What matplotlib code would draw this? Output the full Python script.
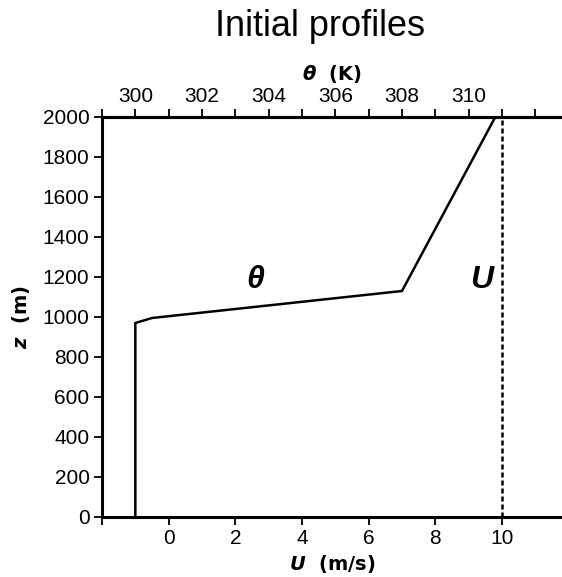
import numpy as np
import matplotlib
matplotlib.use("Agg")
import matplotlib.pyplot as plt

# initial potential temperature profile (K) vs height (m)
theta = [300.0, 300.0, 300.5, 308.0, 310.8]
z_theta = [0, 970, 995, 1130, 2000]

# initial wind profile (m/s)
u_wind = [10.0, 10.0]
z_wind = [0, 2000]

# theta axis is the wind axis shifted by 301 K
OFFSET = 301.0

plt.rcParams["font.family"] = ["Liberation Sans", "DejaVu Sans"]
plt.rcParams["mathtext.fontset"] = "custom"
plt.rcParams["mathtext.it"] = "DejaVu Sans:italic:bold"
plt.rcParams["mathtext.rm"] = "DejaVu Sans:bold"

fig = plt.figure(figsize=(5.62, 5.77), dpi=100)
ax = fig.add_axes([102 / 562, 1 - 517 / 577, 460 / 562, 400 / 577])

ax.plot(np.array(theta) - OFFSET, z_theta, color="black", lw=1.8,
        solid_joinstyle="miter")
ax.plot(u_wind, z_wind, color="black", lw=1.8, linestyle=(0, (2.0, 1.2)))

ax.set_xlim(-2, -2 + 460 / 33.33)
ax.set_ylim(0, 2000)
ax.set_xticks([-2, 0, 2, 4, 6, 8, 10])
ax.set_xticklabels(["", "0", "2", "4", "6", "8", "10"])
ax.set_yticks(np.arange(0, 2001, 200))

for s in ["left", "bottom", "top"]:
    ax.spines[s].set_linewidth(2.2)
ax.spines["right"].set_visible(False)
ax.tick_params(direction="out", length=6, width=1.3, labelsize=15, pad=3)

top = ax.secondary_xaxis("top", functions=(lambda u: u + OFFSET,
                                           lambda t: t - OFFSET))
top.set_xticks(np.arange(299, 313, 1))
top.set_xticklabels([str(t) if t % 2 == 0 and t <= 310 else ""
                     for t in range(299, 313)])
top.tick_params(direction="out", length=6, width=1.3, labelsize=15, pad=2)
top.spines["top"].set_linewidth(2.2)

ax.set_xlabel("$U$  (m/s)", fontsize=14, fontweight="bold",
              family="DejaVu Sans", labelpad=3)
top.set_xlabel("$\\theta$  (K)", fontsize=14, fontweight="bold",
               family="DejaVu Sans", labelpad=5)
ax.set_ylabel("$z$  (m)", fontsize=14, fontweight="bold",
              family="DejaVu Sans", labelpad=8)

ax.text(2.6, 1185, "θ", fontsize=23, fontweight="bold", style="italic",
        ha="center", va="center")
ax.text(9.4, 1185, "U", fontsize=23, fontweight="bold", style="italic",
        ha="center", va="center")

fig.text(320 / 562, 1 - 26 / 577, "Initial profiles", fontsize=26,
         ha="center", va="center")

fig.savefig("out.png", dpi=100)
